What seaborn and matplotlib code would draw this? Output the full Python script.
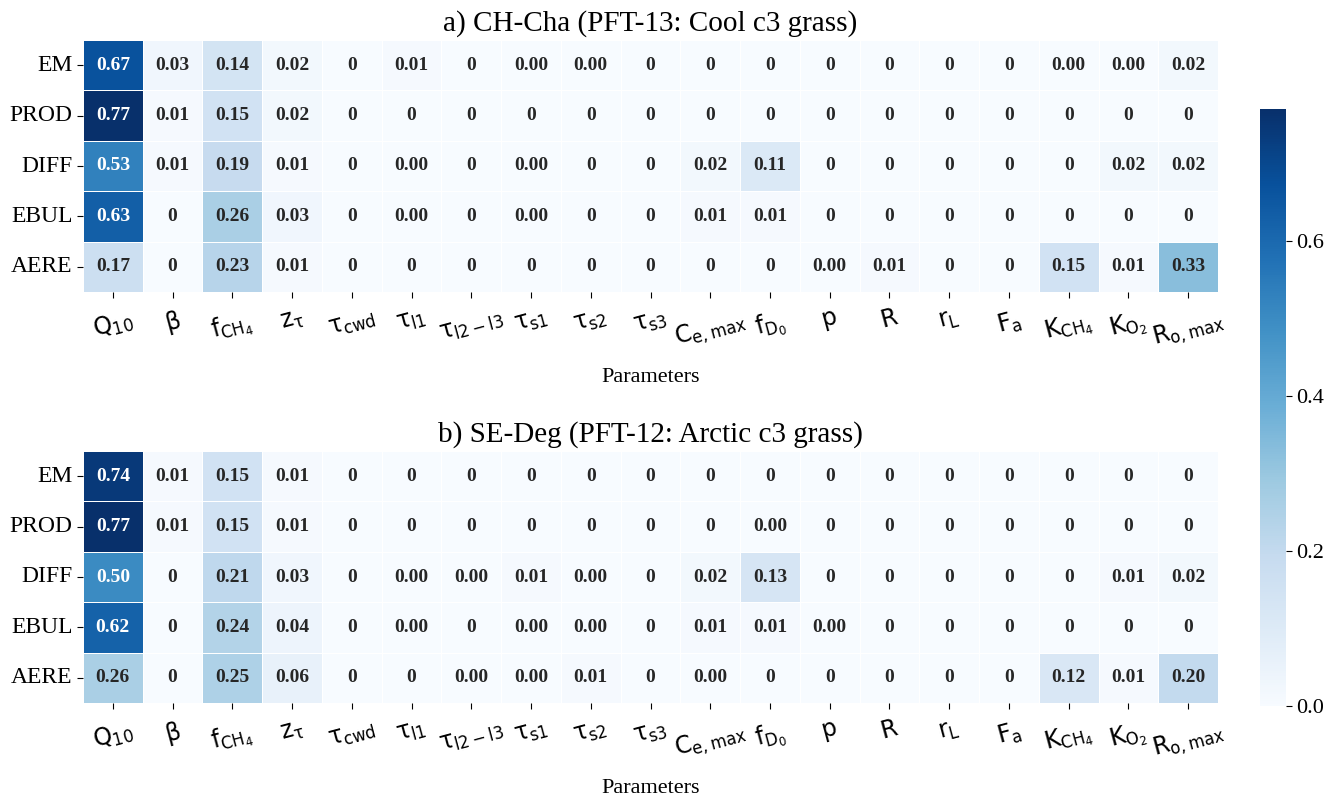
import numpy as np
import matplotlib
matplotlib.use("Agg")
import matplotlib.pyplot as plt
import seaborn as sns

plt.rcParams["font.family"] = ["Liberation Serif", "DejaVu Serif"]
plt.rcParams["mathtext.fontset"] = "custom"
plt.rcParams["mathtext.rm"] = "DejaVu Sans"
plt.rcParams["mathtext.it"] = "DejaVu Sans"
plt.rcParams["mathtext.bf"] = "DejaVu Sans:bold"

# Flux components (rows) and model parameters (columns)
components = ["EM", "PROD", "DIFF", "EBUL", "AERE"]
parameters = [r"$Q_{10}$", r"$\beta$", r"$f_{CH_4}$", r"$z_{\tau}$", r"$\tau_{cwd}$",
              r"$\tau_{l1}$", r"$\tau_{l2-l3}$", r"$\tau_{s1}$", r"$\tau_{s2}$", r"$\tau_{s3}$",
              r"$C_{e,max}$", r"$f_{D_0}$", r"$p$", r"$R$", r"$r_L$", r"$F_a$",
              r"$K_{CH_4}$", r"$K_{O_2}$", r"$R_{o,max}$"]

# Sensitivity indices; exact zeros print as "0", tiny non-zero values as "0.00"
cha_em   = [0.67, 0.03, 0.14, 0.02, 0, 0.01, 0, 0.001, 0.001, 0, 0, 0, 0, 0, 0, 0, 0.001, 0.001, 0.02]
cha_prod = [0.77, 0.01, 0.15, 0.02, 0, 0, 0, 0, 0, 0, 0, 0, 0, 0, 0, 0, 0, 0, 0]
cha_diff = [0.53, 0.01, 0.19, 0.01, 0, 0.001, 0, 0.001, 0, 0, 0.02, 0.11, 0, 0, 0, 0, 0, 0.02, 0.02]
cha_ebul = [0.63, 0, 0.26, 0.03, 0, 0.001, 0, 0.001, 0, 0, 0.01, 0.01, 0, 0, 0, 0, 0, 0, 0]
cha_aere = [0.17, 0, 0.23, 0.01, 0, 0, 0, 0, 0, 0, 0, 0, 0.001, 0.01, 0, 0, 0.15, 0.01, 0.33]

deg_em   = [0.74, 0.01, 0.15, 0.01, 0, 0, 0, 0, 0, 0, 0, 0, 0, 0, 0, 0, 0, 0, 0]
deg_prod = [0.77, 0.01, 0.15, 0.01, 0, 0, 0, 0, 0, 0, 0, 0.001, 0, 0, 0, 0, 0, 0, 0]
deg_diff = [0.50, 0, 0.21, 0.03, 0, 0.001, 0.001, 0.01, 0.001, 0, 0.02, 0.13, 0, 0, 0, 0, 0, 0.01, 0.02]
deg_ebul = [0.62, 0, 0.24, 0.04, 0, 0.001, 0, 0.001, 0.001, 0, 0.01, 0.01, 0.001, 0, 0, 0, 0, 0, 0]
deg_aere = [0.26, 0, 0.25, 0.06, 0, 0, 0.001, 0.001, 0.01, 0, 0.001, 0, 0, 0, 0, 0, 0.12, 0.01, 0.20]

titles = ["a) CH-Cha (PFT-13: Cool c3 grass)", "b) SE-Deg (PFT-12: Arctic c3 grass)"]

panels = [np.array([cha_em, cha_prod, cha_diff, cha_ebul, cha_aere]),
          np.array([deg_em, deg_prod, deg_diff, deg_ebul, deg_aere])]

vmax = max(p.max() for p in panels)


def labels_for(m):
    return np.array([["0" if v == 0 else f"{v:.2f}" for v in row] for row in m])


W, H = 1338, 799
fig = plt.figure(figsize=(W / 100, H / 100), dpi=100)
ax_top = fig.add_axes([83 / W, 1 - 292 / H, 1135 / W, 252 / H])
ax_bot = fig.add_axes([83 / W, 1 - 703 / H, 1135 / W, 252 / H])
cax = fig.add_axes([1260 / W, 1 - 706 / H, 26 / W, 597 / H])

for i, (ax, m, title) in enumerate(zip([ax_top, ax_bot], panels, titles)):
    sns.heatmap(m, ax=ax, cmap="Blues", vmin=0, vmax=vmax,
                annot=labels_for(m), fmt="",
                annot_kws={"fontsize": 14, "fontweight": "bold"},
                linewidths=0.6, linecolor="white",
                cbar=(i == 0), cbar_ax=cax if i == 0 else None,
                xticklabels=parameters, yticklabels=components)
    ax.set_title(title, fontsize=21, pad=7)
    ax.set_xlabel("Parameters", fontsize=16, labelpad=11)
    ax.tick_params(axis="y", labelsize=17, rotation=0, length=4)
    ax.tick_params(axis="x", labelsize=17, length=4, pad=7)
    for lab in ax.get_xticklabels():
        lab.set_rotation(15)
        lab.set_ha("center")

cax.tick_params(labelsize=16, length=4)
cax.set_yticks([0.0, 0.2, 0.4, 0.6])
cax.set_yticklabels(["0.0", "0.2", "0.4", "0.6"])

fig.savefig("out.png", dpi=100)
